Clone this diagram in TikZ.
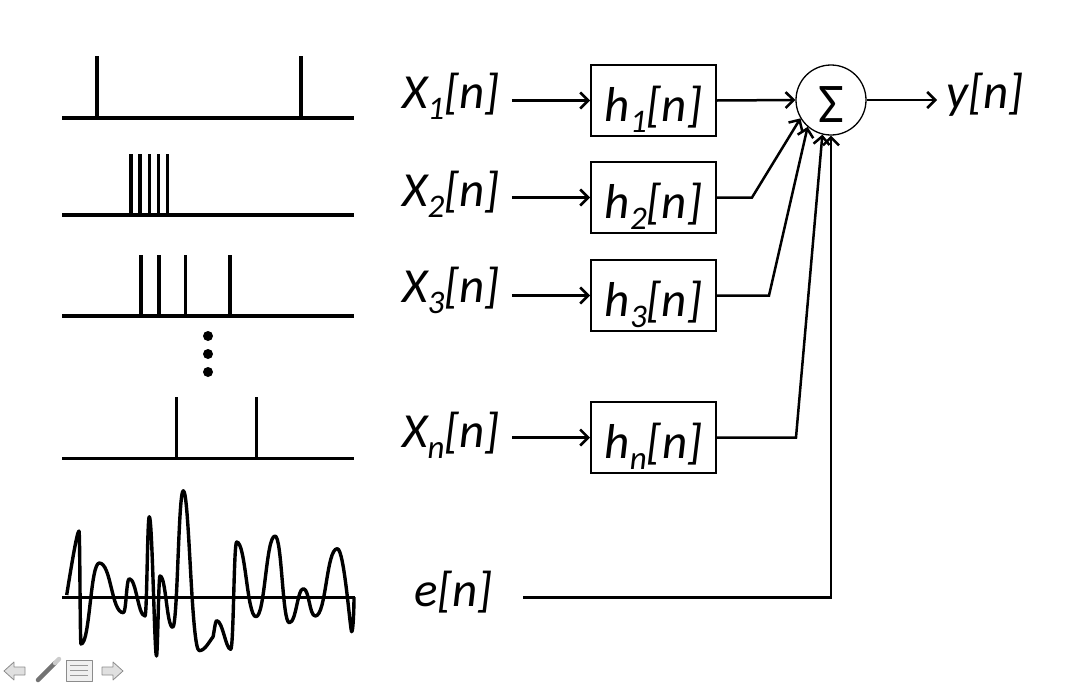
\documentclass[tikz,border=0pt]{standalone}
\usepackage{fontspec}
\setmainfont{Carlito}
\usetikzlibrary{arrows.meta}
\newcommand\subs[1]{\raisebox{-11pt}{\fontsize{33}{33}\selectfont #1}}
\begin{document}
\begin{tikzpicture}[x=1pt,y=-1pt,
  sig/.style={line width=3.2pt,black},
  lbl/.style={inner sep=0pt,font=\fontsize{49}{52}\selectfont\itshape},
  box/.style={draw,line width=2pt,minimum width=125pt,minimum height=71pt,inner sep=0pt,
    text height=44pt,text depth=2pt,font=\fontsize{49}{52}\selectfont\itshape},
  arr/.style={line width=2.5pt,-{Straight Barb[length=8pt,width=16pt]}},
  icon/.style={draw=black!45,fill=black!12,line width=0.8pt,line join=round}]
\useasboundingbox (0,0) rectangle (1066,683);
% ---------- left: signals ----------
% row 1
\draw[sig] (62,118) -- (354,118);
\foreach \x in {97,301} \draw[sig] (\x,118) -- (\x,56);
% row 2
\draw[sig] (62,215) -- (354,215);
\foreach \x in {131,140,149.3,158.3,167.7} \draw[sig] (\x,215) -- (\x,154);
% row 3
\draw[sig] (62,316) -- (354,316);
\foreach \x in {141,159,185.7,230} \draw[sig] (\x,316) -- (\x,255);
% dots
\foreach \y in {336,354,372} \fill (208,\y) circle (5pt);
% row 4
\draw[sig] (62,458.3) -- (354,458.3);
\foreach \x in {176.7,256.7} \draw[sig] (\x,458.3) -- (\x,396.7);
% noise
\draw[sig] (62,597.3) -- (355,597.3);
\draw[sig,line width=3.4pt,line join=round] (66.7,595) .. controls +(4,-25) and +(-2,0) .. (79,531)
 .. controls +(1,0) and +(-1,0) .. (81,644)
 .. controls +(9,0) and +(-9,0) .. (99.3,563)
 .. controls +(12,0) and +(-12,0) .. (123.3,612.7)
 .. controls +(3,0) and +(-3,0) .. (129.3,578.7)
 .. controls +(7,0) and +(-7,0) .. (145,616)
 .. controls +(2,0) and +(-2,0) .. (149.3,516.7)
 .. controls +(3,0) and +(-2,0) .. (156.5,656)
 .. controls +(1.2,0) and +(-1.5,0) .. (160,576)
 .. controls +(6,0) and +(-6,0) .. (172.7,627.3)
 .. controls +(5,0) and +(-5,0) .. (183.3,490.7)
 .. controls +(6,0) and +(-8,0) .. (199.3,650.7)
 .. controls +(6,0) and +(-3,3) .. (213,637)
 .. controls +(1,-4) and +(-1.5,0) .. (216.7,620.7)
 .. controls +(6,0) and +(-5,0) .. (230.7,649.3)
 .. controls +(3,0) and +(-3,0) .. (236.7,542)
 .. controls +(9,0) and +(-9,0) .. (256,616.7)
 .. controls +(9,0) and +(-9,0) .. (275,536)
 .. controls +(7,0) and +(-7,0) .. (289.3,622.7)
 .. controls +(7,0) and +(-6,0) .. (303.3,588.7)
 .. controls +(6,0) and +(-6,0) .. (315.3,616)
 .. controls +(11,0) and +(-11,0) .. (337.3,548.7)
 .. controls +(7,0) and +(-1.5,0) .. (351.7,631.7)
 .. controls +(1.5,0) and +(0,10) .. (354,597);
% ---------- right: block diagram ----------
\node[lbl,anchor=base west] (x1) at (402,108) {X\subs{1}[n]};
\node[lbl,anchor=base west] (x2) at (402,206.5) {X\subs{2}[n]};
\node[lbl,anchor=base west] (x3) at (402,302) {X\subs{3}[n]};
\node[lbl,anchor=base west] (xn) at (402,447) {X\subs{n}[n]};
\node[lbl,anchor=base west] (e) at (414,606) {e[n]};
\node[box] (b1) at (653.5,100.5) {h\subs{1}[n]};
\node[box] (b2) at (653.5,197.5) {h\subs{2}[n]};
\node[box] (b3) at (653.5,295.5) {h\subs{3}[n]};
\node[box] (bn) at (653.5,437.5) {h\subs{n}[n]};
\node[circle,draw,line width=1.3pt,minimum size=70pt,inner sep=0pt,
  text height=45pt,text depth=0pt,font=\fontsize{56}{56}\selectfont] (S) at (831,100) {Σ};
\node[lbl,anchor=base west] (y) at (946,108) {y[n]};
\coordinate (k2) at (752,197.5);
\coordinate (k3) at (769,295.5);
\coordinate (kn) at (796,437.5);
\coordinate (ke) at (831,597.5);
% inputs
\foreach \a/\b in {x1/b1,x2/b2,x3/b3,xn/bn}
  \draw[arr] ([xshift=12pt]\a.east |- \b.west) -- (\b.west);
% outputs to sum
\draw[arr] (b1.east) -- (S.west);
\draw[arr] (b2.east) -- (k2) -- (S.211);
\draw[arr] (b3.east) -- (k3) -- (S.229);
\draw[arr] (bn.east) -- (kn) -- (S.256);
\draw[arr] ([xshift=30pt]e.east |- ke) -- (ke) -- (S.south);
\draw[arr] (S.east) -- ([xshift=-9pt]y.west |- S.east);
% ---------- navigation icons ----------
\draw[icon] (4,671) -- (14,662) -- (14,667) -- (25,667) -- (25,675) -- (14,675) -- (14,680) -- cycle;
\draw[icon] (123,671) -- (113,662) -- (113,667) -- (102,667) -- (102,675) -- (113,675) -- (113,680) -- cycle;
\draw[line width=4.5pt,black!55,line cap=round] (38,680) -- (55,663);
\draw[line width=4.5pt,black!20,line cap=round] (55,663) -- (59,659);
\draw[icon,fill=black!6] (66,660) rectangle (92,681);
\foreach \yy in {665.5,670.5,675.5} \draw[black!40,line width=1pt] (70,\yy) -- (88,\yy);
\end{tikzpicture}
\end{document}
